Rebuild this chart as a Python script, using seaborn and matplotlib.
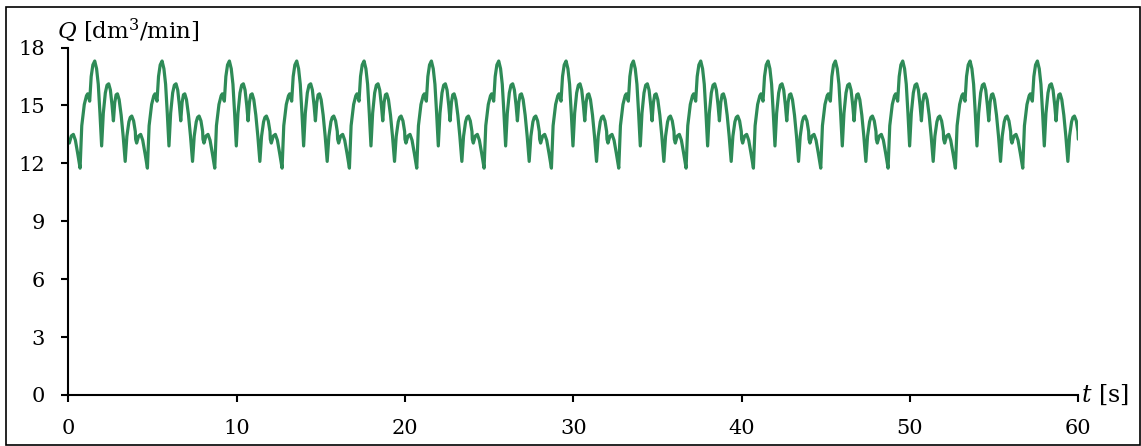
"""
Q(t) flow rate chart
"""
import matplotlib
matplotlib.use("Agg")
import matplotlib.pyplot as plt
import matplotlib.patches as mpatches
import seaborn as sns
import pandas as pd
import numpy as np

# one cycle of the flow signal (t in s, Q in dm3/min)
t_cycle = [0.00, 0.06, 0.18, 0.30, 0.42, 0.56, 0.65, 0.70, 0.80, 0.95,
           1.08, 1.15, 1.27, 1.36, 1.46, 1.57, 1.68, 1.78, 1.88, 1.98,
           2.08, 2.20, 2.30, 2.40, 2.50, 2.60, 2.68, 2.76, 2.84, 2.92,
           3.02, 3.14, 3.26, 3.38, 3.48, 3.60, 3.68, 3.77, 3.88, 3.98]
q_cycle = [13.25, 13.05, 13.42, 13.50, 13.20, 12.50, 12.00, 11.75, 13.95, 15.05,
           15.50, 15.60, 15.22, 16.50, 17.10, 17.30, 16.90, 16.10, 14.60, 12.90,
           14.60, 15.65, 16.05, 16.12, 15.80, 15.00, 14.20, 15.15, 15.55, 15.60,
           15.30, 14.50, 13.40, 12.10, 13.40, 14.15, 14.38, 14.45, 14.20, 13.65]
period = 4.0
n_cycles = 15

x_ticks = [0, 10, 20, 30, 40, 50, 60]
y_ticks = [0, 3, 6, 9, 12, 15, 18]

# signal repeats every cycle
t_all = np.concatenate([np.array(t_cycle) + k * period for k in range(n_cycles)] + [[n_cycles * period]])
q_all = np.concatenate([q_cycle] * n_cycles + [[q_cycle[0]]])
df = pd.DataFrame({"t": t_all, "Q": q_all})

sns.set_style("ticks")
plt.rcParams["font.family"] = ["DejaVu Serif"]
plt.rcParams["mathtext.fontset"] = "dejavuserif"
plt.rcParams["text.color"] = "black"

W, H = 1141, 446
fig = plt.figure(figsize=(W / 100, H / 100), dpi=100)
ax = fig.add_axes([68.3 / W, 1 - 395 / H, (1078.3 - 68.3) / W, (395 - 47.5) / H])

sns.lineplot(data=df, x="t", y="Q", ax=ax, color="#2e8b57", linewidth=2.3,
             estimator=None, sort=False)

ax.set_xlim(0, 60)
ax.set_ylim(0, 18)
ax.set_xticks(x_ticks)
ax.set_yticks(y_ticks)
ax.set_xlabel("")
ax.set_ylabel("")
ax.tick_params(axis="both", direction="out", length=5, width=1.5, color="black",
               labelsize=15, pad=12, labelcolor="black")
for side in ["top", "right"]:
    ax.spines[side].set_visible(False)
for side in ["left", "bottom"]:
    ax.spines[side].set_linewidth(1.5)
    ax.spines[side].set_color("black")

# axis labels like in the original
ax.text(1.003, 0, r"$t$ [s]", transform=ax.transAxes, ha="left", va="center",
        fontsize=17, color="black")
fig.text(57 / W, 1 - 30 / H, r"$Q$ [dm$^3$/min]", ha="left", va="center",
         fontsize=16.5, color="black")

# frame around the whole figure
fig.patches.append(mpatches.Rectangle((6 / W, 1 / H), (1140 - 6) / W, (445 - 7) / H,
                                      transform=fig.transFigure, fill=False,
                                      edgecolor="black", linewidth=1.2))

plt.savefig("out.png", dpi=100)
